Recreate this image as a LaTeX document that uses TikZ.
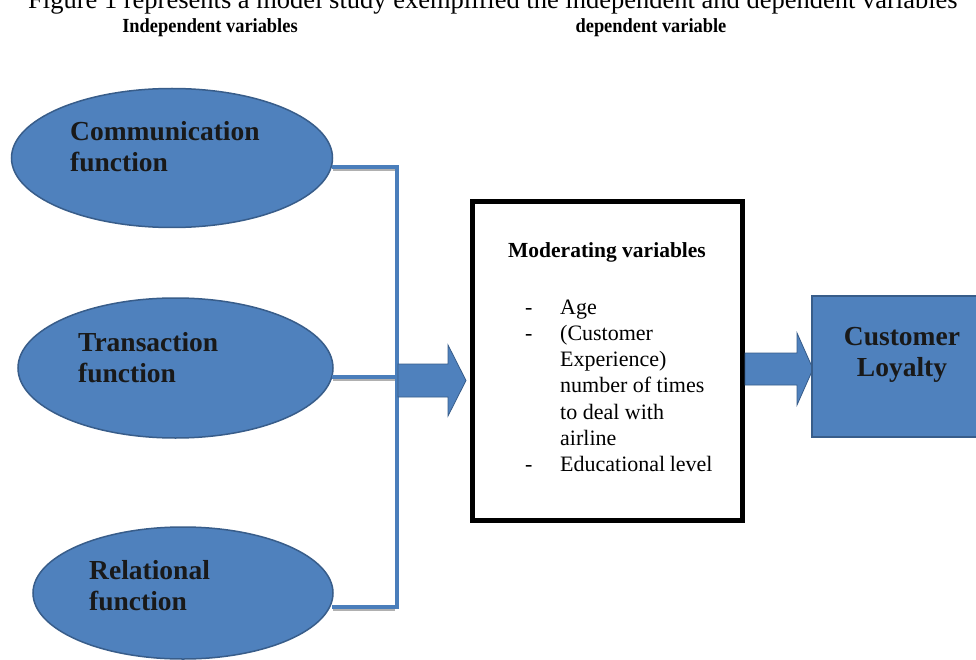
\documentclass[tikz,border=0pt]{standalone}
\usepackage{fontspec}
\usepackage{graphicx}
\setmainfont{Liberation Serif}
\definecolor{ofill}{HTML}{4F81BD}
\definecolor{oedge}{HTML}{385D8A}
\definecolor{oline}{HTML}{4A7EBB}
\definecolor{oshadow}{HTML}{B0B0B0}
\tikzset{
  blob/.style={ellipse, fill=ofill, draw=oedge, line width=1.5pt, inner sep=0pt},
  bigbold/.style={font=\fontsize{27.5}{31}\selectfont\bfseries, align=left, inner sep=0pt, text=black!90},
  conn/.style={draw=oline, line width=4pt},
  connshadow/.style={draw=oshadow, line width=3pt},
  blockarrow/.style={fill=ofill, draw=oedge, line width=0.8pt},
  hdr/.style={font=\fontsize{20}{24}\selectfont\bfseries, inner sep=0pt},
}
\usetikzlibrary{shapes.geometric}
\begin{document}
\begin{tikzpicture}[x=1pt,y=-1pt]
\useasboundingbox (0,0) rectangle (976,660);
\clip (0,0) rectangle (976,660);
\fill[white] (0,0) rectangle (976,660);

% cropped caption
\node[anchor=base west, inner sep=0pt, font=\fontsize{26.5}{30}\selectfont] (cap) at (28,9)
  {Figure 1 represents a model study exemplified the independent and dependent variables};

% headers
\node[hdr] (hind) at (210,27.5) {\scalebox{0.92}[1]{Independent variables}};
\node[hdr] (hdep) at (651,27.5) {\scalebox{0.92}[1]{dependent variable}};

% ellipses
\node[blob, minimum width=321pt, minimum height=139pt] (comm) at (172,158) {};
\node[blob, minimum width=315pt, minimum height=140pt] (trans) at (175.5,368) {};
\node[blob, minimum width=300pt, minimum height=132pt] (rel) at (183,593) {};

\node[bigbold, anchor=west] (commtxt) at (70,146.5) {Communication\\function};
\node[bigbold, anchor=west] (transtxt) at (78,357.5) {Transaction\\function};
\node[bigbold, anchor=west] (reltxt) at (89,586) {Relational\\function};

% bracket connectors
\coordinate (b1) at (397,167);
\coordinate (b2) at (397,377);
\coordinate (b3) at (397,607);
\draw[connshadow] (333,169.5) -- (395,169.5);
\draw[connshadow] (333,379.5) -- (395,379.5);
\draw[connshadow] (333,609.5) -- (395,609.5);
\draw[conn] (332,167) -- (b1);
\draw[conn] (332,377) -- (b2);
\draw[conn] (332,607) -- (b3);
\draw[conn, line cap=rect] (b1) -- (b3);

% moderating box
\node[draw=black, line width=5pt, minimum width=270pt, minimum height=319pt, inner sep=0pt] (mod) at (607.5,361) {};
\node[font=\fontsize{21.5}{26}\selectfont\bfseries, inner sep=0pt] (modtitle) at (607,252) {Moderating variables};
\node[anchor=base west, inner sep=0pt, font=\fontsize{22}{26.3}\selectfont] (moditems) at (525,314)
{\begin{tabular}[t]{@{}p{35pt}@{}l@{}}
- & Age\\
- & (Customer\\
   & Experience)\\
   & number of times\\
   & to deal with\\
   & airline\\
- & Educational\kern-1pt\ level
\end{tabular}};

% block arrows
\draw[blockarrow] (398,364) -- (448,364) -- (448,345) -- (466,380.5) -- (448,416) -- (448,397) -- (398,397) -- cycle;
\draw[blockarrow] (745,353) -- (797,353) -- (797,333) -- (813,369) -- (797,405) -- (797,385) -- (745,385) -- cycle;

% customer loyalty
\node[fill=ofill, draw=oedge, line width=1.5pt, minimum width=170pt, minimum height=141pt, inner sep=0pt] (loyal) at (897,366.5) {};
\node[bigbold, align=center, anchor=center] (loyaltxt) at (902,355) {Customer\\Loyalty};
\end{tikzpicture}
\end{document}
